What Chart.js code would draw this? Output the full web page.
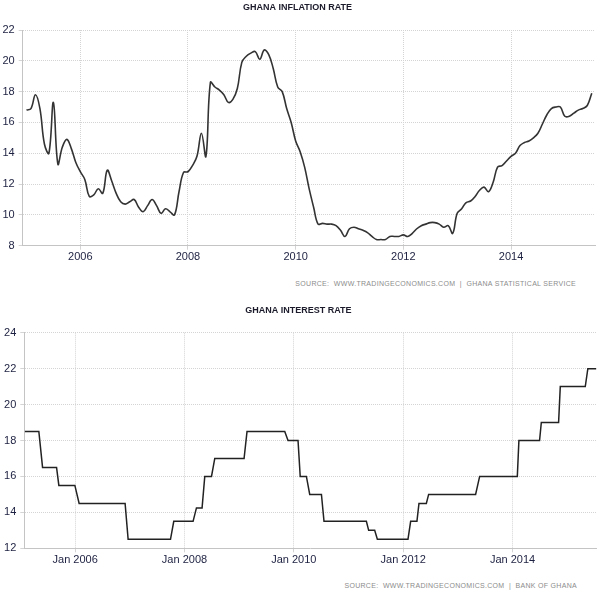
<!DOCTYPE html>
<html>
<head>
<meta charset="utf-8">
<script src="https://cdn.jsdelivr.net/npm/chart.js@4.4.1/dist/chart.umd.min.js"></script>
<style>
  body { margin: 0; background: #fff; width: 600px; height: 597px; position: relative; overflow: hidden; }
  .box { position: absolute; left: 0; width: 600px; }
  .src { position: absolute; font: 7px "Liberation Sans", Arial, sans-serif; color: #8c8c8c; letter-spacing: 0.3px; white-space: pre; }
</style>
</head>
<body>
<div class="box" style="top:0;height:270px"><canvas id="inflation" width="600" height="270"></canvas></div>
<div class="src" style="right:24px;top:280px">SOURCE:  WWW.TRADINGECONOMICS.COM  |  GHANA STATISTICAL SERVICE</div>
<div class="box" style="top:300px;height:270px"><canvas id="interest" width="600" height="270"></canvas></div>
<div class="src" style="right:23px;top:582px">SOURCE:  WWW.TRADINGECONOMICS.COM  |  BANK OF GHANA</div>
<script>
// monthly inflation, Jan 2005 .. Jul 2015
const inflationStart = 2005;
const inflation = [
  16.8, 16.9, 17.8, 16.9, 14.6, 14.0, 17.3, 13.3, 14.4, 14.9, 14.3, 13.4,
  12.8, 12.3, 11.2, 11.3, 11.7, 11.4, 12.9, 12.2, 11.4, 10.85, 10.7, 10.85,
  11.0, 10.5, 10.2, 10.6, 11.0, 10.6, 10.1, 10.4, 10.2, 10.0, 11.5, 12.75,
  12.8, 13.2, 13.8, 15.3, 13.8, 18.6, 18.3, 18.1, 17.8, 17.3, 17.5, 18.2,
  19.9, 20.3, 20.5, 20.6, 20.1, 20.7, 20.4, 19.5, 18.3, 18.0, 16.9, 16.0,
  14.8, 14.1, 13.1, 11.7, 10.5, 9.4, 9.45, 9.4, 9.4, 9.3, 9.0, 8.6,
  9.1, 9.2, 9.1, 9.0, 8.85, 8.6, 8.4, 8.4, 8.4, 8.6, 8.6, 8.6,
  8.7, 8.6, 8.8, 9.1, 9.3, 9.4, 9.5, 9.5, 9.4, 9.2, 9.3, 8.8,
  10.1, 10.4, 10.8, 10.9, 11.2, 11.6, 11.8, 11.5, 12.1, 13.1, 13.2, 13.5,
  13.8, 14.0, 14.5, 14.7, 14.8, 15.0, 15.3, 15.9, 16.5, 16.9, 17.0, 17.0,
  16.4, 16.4, 16.6, 16.8, 16.9, 17.1, 17.9,
];

// policy rate, change points in decimal years
const rateDates = [
  2005.08, 2005.336, 2005.404, 2005.66, 2005.702, 2005.995, 2006.073, 2006.914, 2006.969,
  2007.744, 2007.804, 2008.157, 2008.219, 2008.322, 2008.371, 2008.494, 2008.554,
  2009.09, 2009.144, 2009.834, 2009.894, 2010.077, 2010.117, 2010.23, 2010.291,
  2010.505, 2010.552, 2011.327, 2011.369, 2011.479, 2011.528, 2012.088, 2012.137,
  2012.252, 2012.289, 2012.424, 2012.466, 2013.325, 2013.399, 2014.088, 2014.117,
  2014.495, 2014.527, 2014.843, 2014.874, 2015.331, 2015.378, 2015.532,
];
const rateValues = [
  18.5, 18.5, 16.5, 16.5, 15.5, 15.5, 14.5, 14.5, 12.5,
  12.5, 13.5, 13.5, 14.25, 14.25, 16, 16, 17,
  17, 18.5, 18.5, 18, 18, 16, 16, 15,
  15, 13.5, 13.5, 13, 13, 12.5, 12.5, 13.5,
  13.5, 14.5, 14.5, 15, 15, 16, 16, 18,
  18, 19, 19, 21, 21, 22, 22,
];

const yearTicks = [2006, 2008, 2010, 2012, 2014];

const labelColor = '#1d2040';
const gridColor = '#d4d4d4';
const axisColor = '#c4c4c4';
const labelFont = { family: '"Liberation Sans", Arial, sans-serif', size: 11 };

function fixedTicks(values) {
  return (scale) => { scale.ticks = values.map((v) => ({ value: v })); };
}

function buildOptions(o) {
  return {
    responsive: false,
    animation: false,
    layout: { padding: { right: o.rightPad } },
    plugins: {
      legend: { display: false },
      tooltip: { enabled: false },
      title: {
        display: true,
        text: o.title,
        color: '#1b1b2b',
        font: { family: '"Liberation Sans", Arial, sans-serif', size: 9, weight: 'bold' },
        padding: o.titlePad,
      },
    },
    scales: {
      x: {
        type: 'linear',
        min: o.xMin,
        max: o.xMax,
        afterBuildTicks: fixedTicks(yearTicks),
        afterFit: (s) => { s.height = o.xHeight; },
        ticks: { color: labelColor, font: labelFont, padding: 1, maxRotation: 0, autoSkip: false, callback: o.xLabel },
        grid: { color: gridColor, tickColor: gridColor, tickLength: 4 },
        border: { color: axisColor, dash: [1, 1] },
      },
      y: {
        min: o.yMin,
        max: o.yMax,
        afterFit: (s) => { s.width = o.yWidth; },
        ticks: { stepSize: 2, color: labelColor, font: labelFont, padding: 4 },
        grid: { color: gridColor, tickColor: gridColor, tickLength: 4 },
        border: { color: axisColor, dash: [1, 1] },
      },
    },
  };
}

new Chart(document.getElementById('inflation'), {
  type: 'line',
  data: {
    datasets: [{
      data: inflation.map((v, i) => ({ x: inflationStart + i / 12, y: v })),
      borderColor: '#333333',
      borderWidth: 1.6,
      pointRadius: 0,
      tension: 0.4,
      fill: false,
    }],
  },
  options: buildOptions({
    title: 'GHANA INFLATION RATE',
    titlePad: { top: 2, bottom: 17.2 },
    xMin: 2004.93, xMax: 2015.56,
    xLabel: (v) => String(v),
    xHeight: 24.3,
    yMin: 8, yMax: 22, yWidth: 22.7,
    rightPad: 5,
  }),
});

new Chart(document.getElementById('interest'), {
  type: 'line',
  data: {
    datasets: [{
      data: rateDates.map((d, i) => ({ x: d, y: rateValues[i] })),
      borderColor: '#222222',
      borderWidth: 1.5,
      pointRadius: 0,
      tension: 0,
      fill: false,
    }],
  },
  options: buildOptions({
    title: 'GHANA INTEREST RATE',
    titlePad: { top: 5.3, bottom: 16.6 },
    xMin: 2005.07, xMax: 2015.54,
    xLabel: (v) => 'Jan ' + v,
    xHeight: 21.7,
    yMin: 12, yMax: 24, yWidth: 24.3,
    rightPad: 3.3,
  }),
});
</script>
</body>
</html>
